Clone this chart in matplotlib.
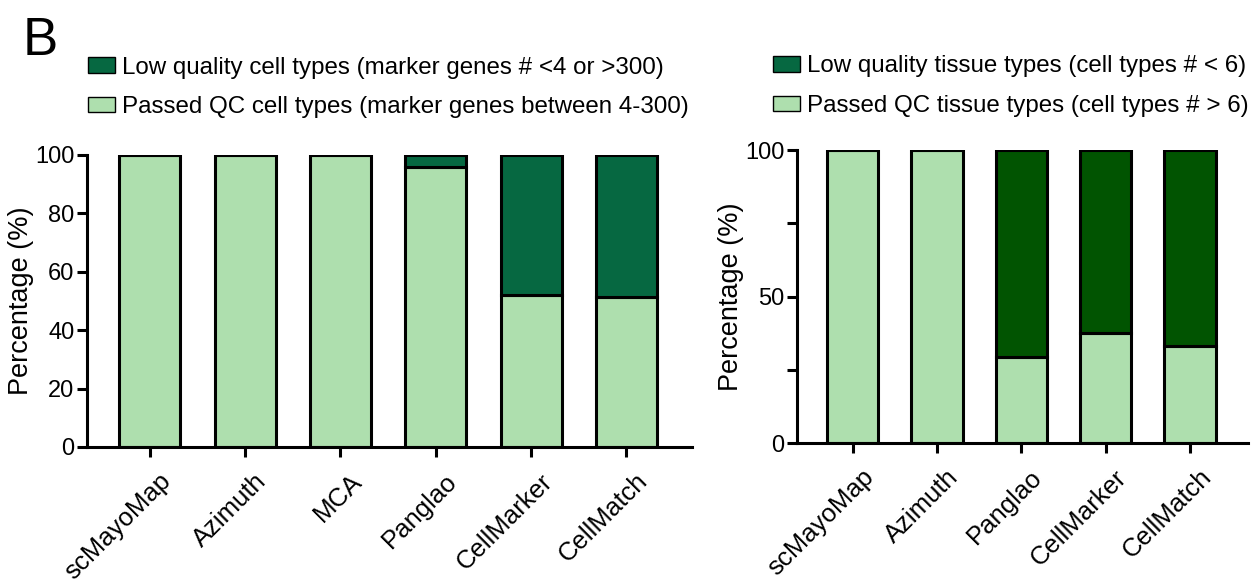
import matplotlib.pyplot as plt
import matplotlib.transforms as mtransforms
from matplotlib.patches import Patch

plt.rcParams['font.family'] = ['Liberation Sans', 'DejaVu Sans']

# left panel: cell types
cell_dbs = ['scMayoMap', 'Azimuth', 'MCA', 'Panglao', 'CellMarker', 'CellMatch']
cell_passed = [100, 100, 100, 96, 52, 51.5]
cell_low = [0, 0, 0, 4, 48, 48.5]

# right panel: tissue types
tissue_dbs = ['scMayoMap', 'Azimuth', 'Panglao', 'CellMarker', 'CellMatch']
tissue_passed = [100, 100, 29.5, 37.5, 33]
tissue_low = [0, 0, 70.5, 62.5, 67]

light = '#aedfae'
dark_left = '#066841'
dark_right = '#015401'

fig = plt.figure(figsize=(12.56, 5.84), dpi=100)
ax1 = fig.add_axes([0.0693, 0.2346, 0.4817, 0.5])
ax2 = fig.add_axes([0.6346, 0.2414, 0.359, 0.5017])


def style(ax, n, yticks, labels, minor=None):
    ax.set_xlim(-0.66, n - 1 + 0.69)
    ax.set_ylim(0, 100)
    ax.spines['top'].set_visible(False)
    ax.spines['right'].set_visible(False)
    ax.spines['left'].set_linewidth(2.2)
    ax.spines['bottom'].set_linewidth(2.2)
    ax.set_yticks(yticks)
    if minor is not None:
        ax.set_yticks(minor, minor=True)
        ax.tick_params(axis='y', which='minor', length=7, width=2.2, direction='out')
    ax.tick_params(axis='both', which='major', length=7, width=2.2, labelsize=17, pad=2)
    ax.tick_params(axis='x', pad=6)
    ax.set_ylabel('Percentage (%)', fontsize=19.5, labelpad=1)
    ax.set_xticks(range(n))
    ax.set_xticklabels(labels, rotation=45, ha='right', rotation_mode='anchor', fontsize=18.5)
    # nudge the slanted labels a little right/down like the original
    shift = mtransforms.ScaledTranslation(9 / 100, -4 / 100, fig.dpi_scale_trans)
    for lab in ax.get_xticklabels():
        lab.set_transform(lab.get_transform() + shift)


x1 = range(len(cell_dbs))
ax1.bar(x1, cell_passed, width=0.64, color=light, edgecolor='black', linewidth=2.2)
ax1.bar(x1, cell_low, bottom=cell_passed, width=0.64, color=dark_left, edgecolor='black', linewidth=2.2)
style(ax1, len(cell_dbs), [0, 20, 40, 60, 80, 100], cell_dbs)

x2 = range(len(tissue_dbs))
ax2.bar(x2, tissue_passed, width=0.61, color=light, edgecolor='black', linewidth=2.2)
ax2.bar(x2, tissue_low, bottom=tissue_passed, width=0.61, color=dark_right, edgecolor='black', linewidth=2.2)
style(ax2, len(tissue_dbs), [0, 50, 100], tissue_dbs, minor=[25, 75])

leg_kw = dict(loc='upper left', frameon=False, fontsize=17.4, handlelength=1.1, handleheight=0.6,
              handletextpad=0.3, labelspacing=0.72, borderaxespad=0, borderpad=0)

leg1 = [Patch(facecolor=dark_left, edgecolor='black', label='Low quality cell types (marker genes # <4 or >300)'),
        Patch(facecolor=light, edgecolor='black', label='Passed QC cell types (marker genes between 4-300)')]
fig.legend(handles=leg1, bbox_to_anchor=(0.070, 0.903), **leg_kw)

leg2 = [Patch(facecolor=dark_left, edgecolor='black', label='Low quality tissue types (cell types # < 6)'),
        Patch(facecolor=light, edgecolor='black', label='Passed QC tissue types (cell types # > 6)')]
fig.legend(handles=leg2, bbox_to_anchor=(0.6155, 0.905), **leg_kw)

fig.text(0.018, 0.905, 'B', fontsize=38)

fig.savefig('out.png', dpi=100)
